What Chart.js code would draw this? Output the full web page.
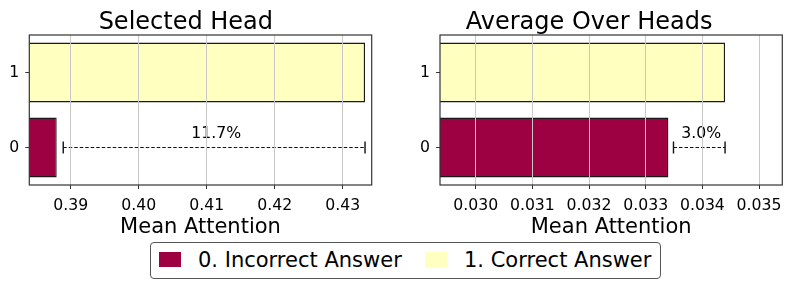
<!DOCTYPE html>
<html>
<head>
<meta charset="utf-8">
<script src="https://cdn.jsdelivr.net/npm/chart.js@4.4.1/dist/chart.umd.min.js"></script>
<style>
  html, body { margin: 0; padding: 0; background: #fff; }
  body { width: 793px; height: 289px; position: relative; overflow: hidden; font-family: "DejaVu Sans", sans-serif; }
  .panel { position: absolute; top: 0; height: 240px; }
  #legend {
    position: absolute; left: 150px; top: 242px; width: 509px; height: 35px;
    border: 1.3px solid #555; border-radius: 4px; box-sizing: content-box;
    font-size: 21px; color: #000;
  }
  .sw { position: absolute; top: 9px; width: 22px; height: 15px; }
  .lt { position: absolute; top: 3px; white-space: nowrap; line-height: 28px; }
</style>
</head>
<body>
<div class="panel" style="left:0;width:396px"><canvas id="left"></canvas></div>
<div class="panel" style="left:396px;width:397px"><canvas id="right"></canvas></div>
<div id="legend">
  <div class="sw" style="left:8px;background:#9e0142"></div>
  <div class="lt" style="left:47px">0. Incorrect Answer</div>
  <div class="sw" style="left:274px;background:#ffffbf"></div>
  <div class="lt" style="left:313px">1. Correct Answer</div>
</div>
<script>
// categories and values
const categories = ['0', '1'];
const seriesNames = ['0. Incorrect Answer', '1. Correct Answer'];
const barColors = ['#9e0142', '#ffffbf'];

const titles = ['Selected Head', 'Average Over Heads'];
const selectedHead = [0.38794, 0.43328];
const averageHeads = [0.03340, 0.03440];

const leftTicks = [0.39, 0.40, 0.41, 0.42, 0.43];
const rightTicks = [0.030, 0.031, 0.032, 0.033, 0.034, 0.035];
const leftRange = [0.38391, 0.43426];
const rightRange = [0.02937, 0.03541];

// gap bracket: start, end, label
const leftGap = [0.38890, 0.43328];
const rightGap = [0.03349, 0.03440];
const gapLabels = ['11.7%', '3.0%'];

const FONT = '"DejaVu Sans", sans-serif';

// frame round the plot area, like matplotlib spines
const framePlugin = {
  id: 'frame',
  afterDraw(chart) {
    const { ctx, chartArea: a } = chart;
    ctx.save();
    ctx.strokeStyle = '#333';
    ctx.lineWidth = 1.2;
    ctx.strokeRect(a.left, a.top, a.right - a.left, a.bottom - a.top);
    ctx.restore();
  }
};

// dashed bracket from the incorrect bar to the correct value
const gapPlugin = {
  id: 'gap',
  afterDatasetsDraw(chart, args, opts) {
    const { ctx } = chart;
    const x = chart.scales.x, y = chart.scales.y;
    const x0 = x.getPixelForValue(opts.range[0]);
    const x1 = x.getPixelForValue(opts.range[1]);
    const yc = y.getPixelForValue(0);
    ctx.save();
    ctx.strokeStyle = '#111';
    ctx.lineWidth = 1;
    ctx.setLineDash([3.5, 2]);
    ctx.beginPath();
    ctx.moveTo(x0, yc);
    ctx.lineTo(x1, yc);
    ctx.stroke();
    ctx.setLineDash([]);
    ctx.lineWidth = 1.4;
    ctx.beginPath();
    ctx.moveTo(x0, yc - 6); ctx.lineTo(x0, yc + 6);
    ctx.moveTo(x1, yc - 6); ctx.lineTo(x1, yc + 6);
    ctx.stroke();
    ctx.fillStyle = '#000';
    ctx.font = '15.7px ' + FONT;
    ctx.textAlign = 'center';
    ctx.textBaseline = 'alphabetic';
    ctx.fillText(opts.label, (x0 + x1) / 2 + 2, yc - 10);
    ctx.restore();
  }
};

function makeChart(id, title, values, ticks, range, gap, gapLabel, yWidth, padRight) {
  return new Chart(document.getElementById(id), {
    type: 'bar',
    data: {
      labels: categories,
      datasets: [{
        data: values,
        backgroundColor: barColors,
        borderColor: '#1a1a1a',
        borderWidth: 1.4,
        borderSkipped: false,
        barPercentage: 0.8,
        categoryPercentage: 1.0
      }]
    },
    options: {
      indexAxis: 'y',
      responsive: true,
      maintainAspectRatio: false,
      animation: false,
      layout: { padding: { left: 0, right: padRight, top: 0, bottom: 0 } },
      plugins: {
        legend: { display: false },
        tooltip: { enabled: false },
        title: {
          display: true,
          text: title,
          color: '#000',
          font: { family: FONT, size: 24, weight: 'normal', lineHeight: 1.05 },
          padding: { top: 9.8, bottom: 0 }
        },
        gap: { range: gap, label: gapLabel }
      },
      scales: {
        x: {
          type: 'linear',
          min: range[0],
          max: range[1],
          afterBuildTicks: axis => { axis.ticks = ticks.map(v => ({ value: v })); },
          afterFit: axis => { axis.height = 55; },
          grid: { color: '#c8c8c8', lineWidth: 1, z: 1, tickLength: 4, tickColor: '#333', tickWidth: 1 },
          border: { display: false },
          ticks: {
            color: '#000',
            font: { family: FONT, size: 15.7 },
            padding: 8,
            maxRotation: 0,
            callback: v => v.toFixed(ticks[0] < 0.1 ? 3 : 2)
          },
          title: {
            display: true,
            text: 'Mean Attention',
            color: '#000',
            font: { family: FONT, size: 21 },
            padding: { top: 0, bottom: 0 }
          }
        },
        y: {
          reverse: true,
          afterFit: axis => { axis.width = yWidth; },
          grid: { offset: false, drawOnChartArea: false, tickLength: 4, tickColor: '#333' },
          border: { display: false },
          ticks: { color: '#000', font: { family: FONT, size: 15.7 }, padding: 6 }
        }
      }
    },
    plugins: [gapPlugin, framePlugin]
  });
}

makeChart('left', titles[0], selectedHead, leftTicks, leftRange, leftGap, gapLabels[0], 29.3, 24.3);
makeChart('right', titles[1], averageHeads, rightTicks, rightRange, rightGap, gapLabels[1], 44, 10.7);
</script>
</body>
</html>
